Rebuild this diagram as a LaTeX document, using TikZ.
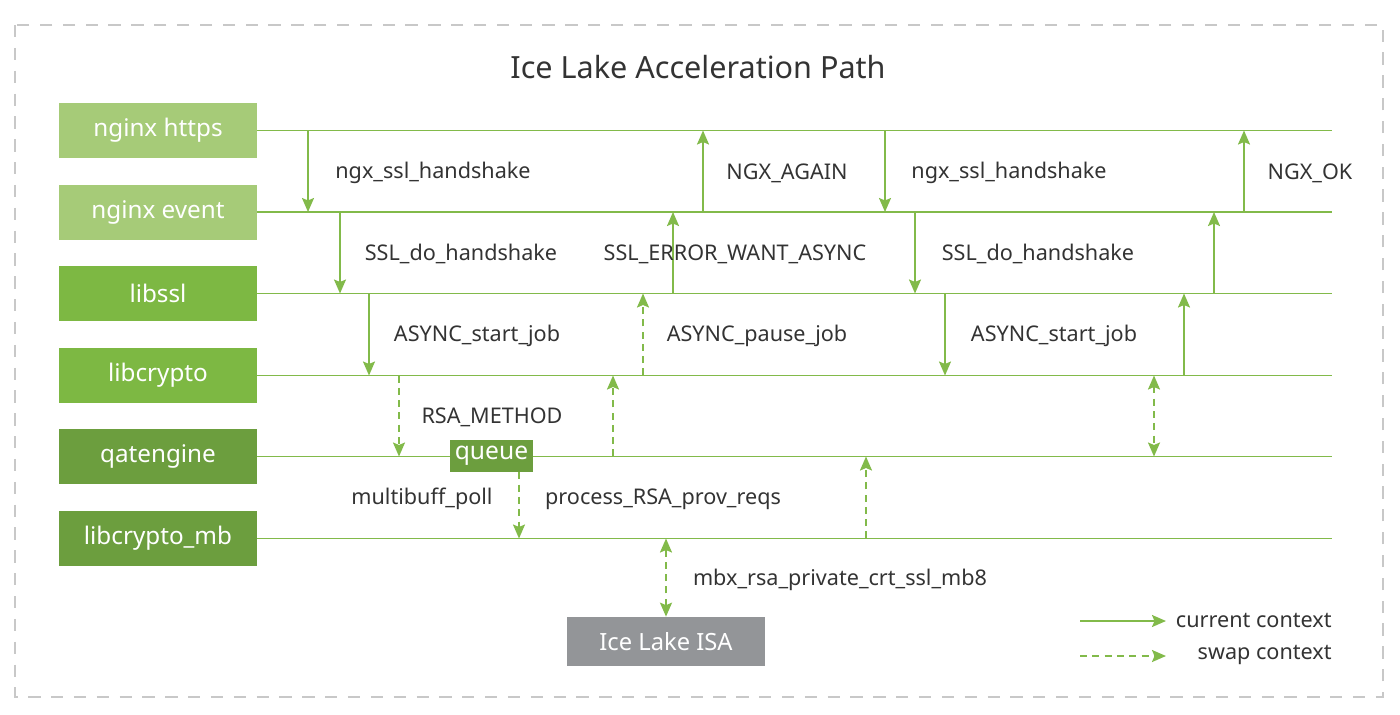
\documentclass[tikz,border=0pt]{standalone}
\usepackage{fontspec}
\setmainfont{Noto Sans}
\usepackage{xcolor}
\usetikzlibrary{arrows.meta,positioning,calc}
\definecolor{laneGreen}{RGB}{130,186,74}
\definecolor{lightGreen}{RGB}{166,203,120}
\definecolor{midGreen}{RGB}{125,184,67}
\definecolor{darkGreen}{RGB}{108,158,62}
\definecolor{isaGray}{RGB}{147,149,152}
\definecolor{txtGray}{RGB}{51,51,51}
\definecolor{frameGray}{RGB}{200,200,200}

\begin{document}
\begin{tikzpicture}[
  x=0.02cm, y=-0.02cm,
  layer/.style={minimum width=3.96cm, minimum height=1.1cm, text=white, font=\fontsize{13.8}{16}\selectfont, inner sep=0pt},
  lane/.style={draw=laneGreen, line width=1.1pt},
  cur/.style={draw=laneGreen, line width=1.1pt, -{Stealth[length=2.8mm,width=2.4mm,inset=0.5mm]}},
  swap/.style={cur, dash pattern=on 4pt off 3pt},
  swapboth/.style={swap, {Stealth[length=2.8mm,width=2.4mm,inset=0.5mm]}-{Stealth[length=2.8mm,width=2.4mm,inset=0.5mm]}},
  lbl/.style={text=txtGray, font=\fontsize{12.3}{14}\selectfont, inner sep=0pt}
]
  \useasboundingbox (0,0) rectangle (1400,714);
  % outer frame
  \draw[frameGray, line width=0.8pt, dash pattern=on 7pt off 6pt] (15,25) rectangle (1383,697);
  \node[text=txtGray, font=\fontsize{17.4}{20}\selectfont] (title) at (698,67) {Ice Lake Acceleration Path};

  % software layers
  \node[layer, fill=lightGreen] (https) at (158,130.5) {nginx https};
  \node[layer, fill=lightGreen] (event) at (158,212) {nginx event};
  \node[layer, fill=midGreen] (ssl) at (158,293.5) {libssl};
  \node[layer, fill=midGreen] (crypto) at (158,375.5) {libcrypto};
  \node[layer, fill=darkGreen] (qat) at (158,456.5) {qatengine};
  \node[layer, fill=darkGreen] (mb) at (158,538.5) {libcrypto\_mb};
  \foreach \n in {https,event,ssl,crypto,qat,mb}
    \draw[lane] (\n.east) -- (1332,0 |- \n.east);

  \node[fill=darkGreen, text=white, minimum width=1.66cm, minimum height=0.64cm, inner sep=0pt,
        font=\fontsize{14}{16}\selectfont] (queue) at (491.5,456) {queue};
  \node[fill=isaGray, text=white, minimum width=3.96cm, minimum height=0.98cm, inner sep=0pt,
        font=\fontsize{13.5}{16}\selectfont] (isa) at (666,641.5) {Ice Lake ISA};

  % calls between layers
  \foreach \xx/\a/\b in {308/https/event, 340/event/ssl, 369/ssl/crypto,
                          885/https/event, 915/event/ssl, 945/ssl/crypto,
                          673/ssl/event, 703/event/https,
                          1184/crypto/ssl, 1214/ssl/event, 1244/event/https}
    \draw[cur] (\xx,0 |- \a.east) -- (\xx,0 |- \b.east);
  \foreach \xx/\a/\b in {399/crypto/qat, 613/qat/crypto, 643/crypto/ssl, 866/mb/qat}
    \draw[swap] (\xx,0 |- \a.east) -- (\xx,0 |- \b.east);
  \draw[swap] (519,0 |- queue.south) -- (519,0 |- mb.east);
  \draw[swapboth] (isa.north -| 666,0) -- (666,0 |- mb.east);
  \draw[swapboth] (1154,0 |- crypto.east) -- (1154,0 |- qat.east);

  % labels
  \node[lbl] (l1) at (433,173) {ngx\_ssl\_handshake};
  \node[lbl] (l2) at (461,254) {SSL\_do\_handshake};
  \node[lbl] (l3) at (477,336) {ASYNC\_start\_job};
  \node[lbl] (l4) at (492,417) {RSA\_METHOD};
  \node[lbl] (l5) at (422,499) {multibuff\_poll};
  \node[lbl] (l6) at (663,499) {process\_RSA\_prov\_reqs};
  \node[lbl] (l7) at (757,336) {ASYNC\_pause\_job};
  \node[lbl] (l8) at (735,254) {SSL\_ERROR\_WANT\_ASYNC};
  \node[lbl] (l9) at (787,173) {NGX\_AGAIN};
  \node[lbl] (l10) at (1009,173) {ngx\_ssl\_handshake};
  \node[lbl] (l11) at (1038,254) {SSL\_do\_handshake};
  \node[lbl] (l12) at (1054,336) {ASYNC\_start\_job};
  \node[lbl] (l13) at (1310,173) {NGX\_OK};
  \node[lbl] (l14) at (840,580) {mbx\_rsa\_private\_crt\_ssl\_mb8};

  % legend
  \coordinate (lgA) at (1080,621);
  \coordinate (lgB) at (1166,621);
  \coordinate (lgC) at (1080,656);
  \coordinate (lgD) at (1166,656);
  \draw[cur] (lgA) -- (lgB);
  \draw[swap] (lgC) -- (lgD);
  \node[lbl, anchor=east] (lgcur) at (1332,620) {current context};
  \node[lbl, anchor=east] (lgswap) at (1332,655) {swap context};
\end{tikzpicture}
\end{document}
